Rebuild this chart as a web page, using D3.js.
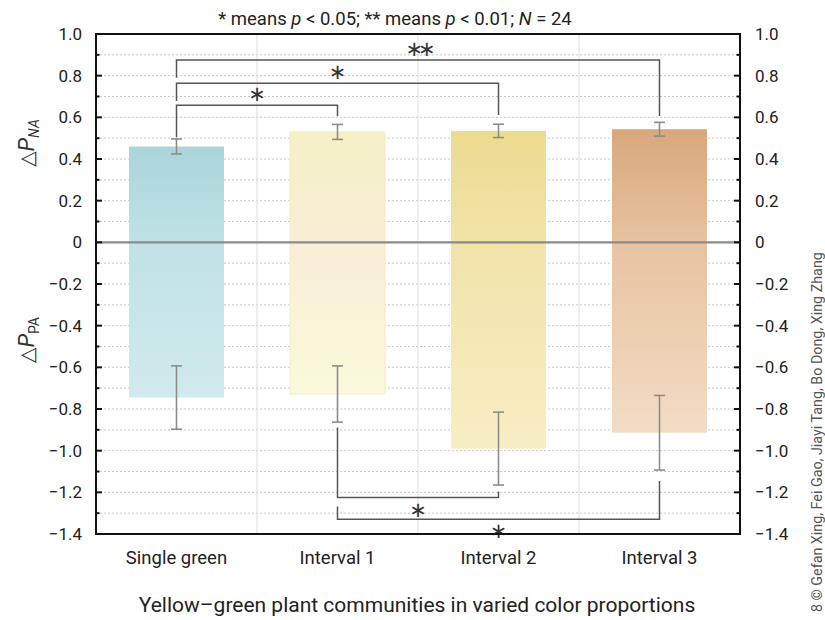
<!DOCTYPE html>
<html>
<head>
<meta charset="utf-8">
<script src="https://cdn.jsdelivr.net/npm/d3@7"></script>
<style>
  html, body { margin: 0; padding: 0; background: #fff; }
  svg { display: block; font-family: Roboto, "Noto Sans", sans-serif; }
</style>
</head>
<body>
<svg id="chart" width="825" height="620"></svg>
<script>
// Community types along the x axis
const categories = ["Single green", "Interval 1", "Interval 2", "Interval 3"];

// Positive component (ΔP_NA): means and standard errors
const naMeans = [0.46, 0.53, 0.535, 0.543];
const naErrors = [0.036, 0.036, 0.032, 0.033];

// Negative component (ΔP_PA): means and standard errors
const paMeans = [-0.745, -0.728, -0.99, -0.914];
const paErrors = [0.152, 0.135, 0.175, 0.179];

// Bar fills: colour at the top, at zero and at the bottom of each bar
const barTopColors = ["#a9d5db", "#f5f0c6", "#eddb8f", "#d8a87b"];
const barMidColors = ["#c0e2e5", "#f8eed6", "#f2e3a9", "#e7c3a0"];
const barBottomColors = ["#d1eaed", "#fbf9dc", "#f8eec4", "#f3dcc6"];

// Axis ticks
const yTicks = [1.0, 0.8, 0.6, 0.4, 0.2, 0, -0.2, -0.4, -0.6, -0.8, -1.0, -1.2, -1.4];
const yTickLabels = ["1.0", "0.8", "0.6", "0.4", "0.2", "0", "\u22120.2", "\u22120.4", "\u22120.6", "\u22120.8", "\u22121.0", "\u22121.2", "\u22121.4"];

// Significance brackets above the bars (ΔP_NA comparisons)
const topBrackets = [
  { from: 0, to: 1, label: "*",  level: 0.658, fromEnd: 0.505, toEnd: 0.605 },
  { from: 0, to: 2, label: "*",  level: 0.764, fromEnd: 0.679, toEnd: 0.611 },
  { from: 0, to: 3, label: "**", level: 0.875, fromEnd: 0.790, toEnd: 0.606 }
];
// Significance brackets below the bars (ΔP_PA comparisons)
const bottomBrackets = [
  { from: 1, to: 2, label: "*", level: -1.225, fromEnd: -0.889, toEnd: -1.196 },
  { from: 1, to: 3, label: "*", level: -1.329, fromEnd: -1.268, toEnd: -1.145 }
];

const svg = d3.select("#chart");
const plot = { left: 96, right: 740, top: 34, bottom: 534 };

const x = d3.scaleBand().domain(categories).range([plot.left, plot.right]).padding(0);
const y = d3.scaleLinear().domain([-1.4, 1.0]).range([plot.bottom, plot.top]);
const cx = i => x(categories[i]) + x.bandwidth() / 2;
const barW = x.bandwidth() * 0.59;

// Gradients for the bars
const defs = svg.append("defs");
categories.forEach((c, i) => {
  const g = defs.append("linearGradient")
    .attr("id", "grad" + i).attr("x1", 0).attr("y1", 0).attr("x2", 0).attr("y2", 1);
  const zeroFrac = (y(0) - y(naMeans[i])) / (y(paMeans[i]) - y(naMeans[i]));
  g.append("stop").attr("offset", 0).attr("stop-color", barTopColors[i]);
  g.append("stop").attr("offset", zeroFrac).attr("stop-color", barMidColors[i]);
  g.append("stop").attr("offset", 1).attr("stop-color", barBottomColors[i]);
});

// Grid: dotted horizontal lines every 0.1, solid vertical lines between groups
const minorTicks = d3.range(-14, 11).map(v => v / 10);
svg.append("g").selectAll("line").data(minorTicks).join("line")
  .attr("x1", plot.left).attr("x2", plot.right)
  .attr("y1", d => y(d)).attr("y2", d => y(d))
  .attr("stroke", "#c8c8c8").attr("stroke-width", 1).attr("stroke-dasharray", "2,2");
svg.append("g").selectAll("line").data(categories.slice(1)).join("line")
  .attr("x1", d => x(d)).attr("x2", d => x(d))
  .attr("y1", plot.top).attr("y2", plot.bottom)
  .attr("stroke", "#e3e3e3").attr("stroke-width", 1.2);

// Bars spanning from the negative to the positive component
svg.append("g").selectAll("rect").data(categories).join("rect")
  .attr("x", (d, i) => cx(i) - barW / 2)
  .attr("width", barW)
  .attr("y", (d, i) => y(naMeans[i]))
  .attr("height", (d, i) => y(paMeans[i]) - y(naMeans[i]))
  .attr("fill", (d, i) => `url(#grad${i})`)
  .attr("stroke", (d, i) => i === 1 ? "#f2eebf" : "none")
  .attr("stroke-width", 1);

// Zero line
svg.append("line")
  .attr("x1", plot.left).attr("x2", plot.right)
  .attr("y1", y(0)).attr("y2", y(0))
  .attr("stroke", "#8a8a8a").attr("stroke-width", 2.2);

// Error bars
const errG = svg.append("g").attr("stroke", "#8c8c8c").attr("stroke-width", 1.6).attr("fill", "none");
function errorBar(i, m, e) {
  const xc = cx(i), cap = 5.5;
  errG.append("line").attr("x1", xc).attr("x2", xc).attr("y1", y(m + e)).attr("y2", y(m - e));
  errG.append("line").attr("x1", xc - cap).attr("x2", xc + cap).attr("y1", y(m + e)).attr("y2", y(m + e));
  errG.append("line").attr("x1", xc - cap).attr("x2", xc + cap).attr("y1", y(m - e)).attr("y2", y(m - e));
}
categories.forEach((c, i) => {
  errorBar(i, naMeans[i], naErrors[i]);
  errorBar(i, paMeans[i], paErrors[i]);
});

// Significance brackets
const brG = svg.append("g");
function bracket(b, above) {
  const x1 = cx(b.from), x2 = cx(b.to);
  brG.append("path")
    .attr("d", `M${x1},${y(b.fromEnd)}V${y(b.level)}H${x2}V${y(b.toEnd)}`)
    .attr("fill", "none").attr("stroke", "#555").attr("stroke-width", 1.5);
  brG.append("text")
    .attr("x", (x1 + x2) / 2)
    .attr("y", y(b.level) + (above ? -11 : 12))
    .attr("text-anchor", "middle")
    .attr("dominant-baseline", "central")
    .attr("font-family", "DejaVu Sans")
    .attr("font-size", 21)
    .attr("letter-spacing", b.label === "**" ? -5 : 0)
    .attr("fill", "#333")
    .text(b.label === "**" ? "\u2217\u2217" : "\u2217");
}
topBrackets.forEach(b => bracket(b, true));
bottomBrackets.forEach(b => bracket(b, false));

// Axis frame
svg.append("rect")
  .attr("x", plot.left).attr("y", plot.top)
  .attr("width", plot.right - plot.left).attr("height", plot.bottom - plot.top)
  .attr("fill", "none").attr("stroke", "#111").attr("stroke-width", 2);

// Inward ticks on both sides
const tickG = svg.append("g").attr("stroke", "#111").attr("stroke-width", 2);
minorTicks.forEach(v => {
  const major = Math.abs(Math.round(v * 10)) % 2 === 0;
  const len = major ? 6 : 3.5;
  tickG.append("line").attr("x1", plot.left).attr("x2", plot.left + len).attr("y1", y(v)).attr("y2", y(v));
  tickG.append("line").attr("x1", plot.right).attr("x2", plot.right - len).attr("y1", y(v)).attr("y2", y(v));
});

// Tick labels via d3 axes (lines hidden)
const leftAxis = d3.axisLeft(y).tickValues(yTicks).tickFormat((d, i) => yTickLabels[i]).tickSize(0).tickPadding(14);
const rightAxis = d3.axisRight(y).tickValues(yTicks).tickFormat((d, i) => yTickLabels[i]).tickSize(0).tickPadding(15);
const la = svg.append("g").attr("transform", `translate(${plot.left},0)`).call(leftAxis);
const ra = svg.append("g").attr("transform", `translate(${plot.right},0)`).call(rightAxis);
[la, ra].forEach(a => {
  a.select(".domain").remove();
  a.selectAll("text").attr("font-family", "Roboto").attr("font-size", 17).attr("fill", "#222");
});

// Category labels
const bottomAxis = d3.axisBottom(x).tickSize(0).tickPadding(17);
const ba = svg.append("g").attr("transform", `translate(0,${plot.bottom})`).call(bottomAxis);
ba.select(".domain").remove();
ba.selectAll("text").attr("font-family", "Roboto").attr("font-size", 18.5).attr("fill", "#222");

// X axis title
svg.append("text")
  .attr("x", 417).attr("y", 612)
  .attr("text-anchor", "middle")
  .attr("font-family", "Roboto").attr("font-size", 21).attr("fill", "#222")
  .text("Yellow\u2013green plant communities in varied color proportions");

// Note above the plot
const note = svg.append("text")
  .attr("x", 395).attr("y", 25)
  .attr("text-anchor", "middle")
  .attr("font-family", "Roboto").attr("font-size", 18.5).attr("fill", "#222");
note.append("tspan").text("* means ");
note.append("tspan").attr("font-style", "italic").text("p");
note.append("tspan").text(" < 0.05; ** means ");
note.append("tspan").attr("font-style", "italic").text("p");
note.append("tspan").text(" < 0.01; ");
note.append("tspan").attr("font-style", "italic").text("N");
note.append("tspan").text(" = 24");

// Y axis labels
function yLabel(cy, sub, subItalic) {
  const t = svg.append("text")
    .attr("transform", `translate(34,${cy}) rotate(-90)`)
    .attr("text-anchor", "middle")
    .attr("font-family", "Roboto").attr("font-size", 22).attr("fill", "#333");
  t.append("tspan").attr("font-family", "DejaVu Sans").attr("font-size", 20).text("\u25B3");
  t.append("tspan").attr("font-style", "italic").text("P");
  t.append("tspan").attr("font-size", 14).attr("dy", 5)
    .attr("font-style", subItalic ? "italic" : "normal").text(sub);
}
yLabel(143, "NA", true);
yLabel(340, "PA", false);

// Credit line along the right edge
svg.append("text")
  .attr("transform", `translate(822,612) rotate(-90)`)
  .attr("text-anchor", "start")
  .attr("font-family", "Roboto").attr("font-size", 14.3).attr("fill", "#555")
  .text("8  \u00A9 Gefan Xing, Fei Gao, Jiayi Tang, Bo Dong, Xing Zhang");
</script>
</body>
</html>
